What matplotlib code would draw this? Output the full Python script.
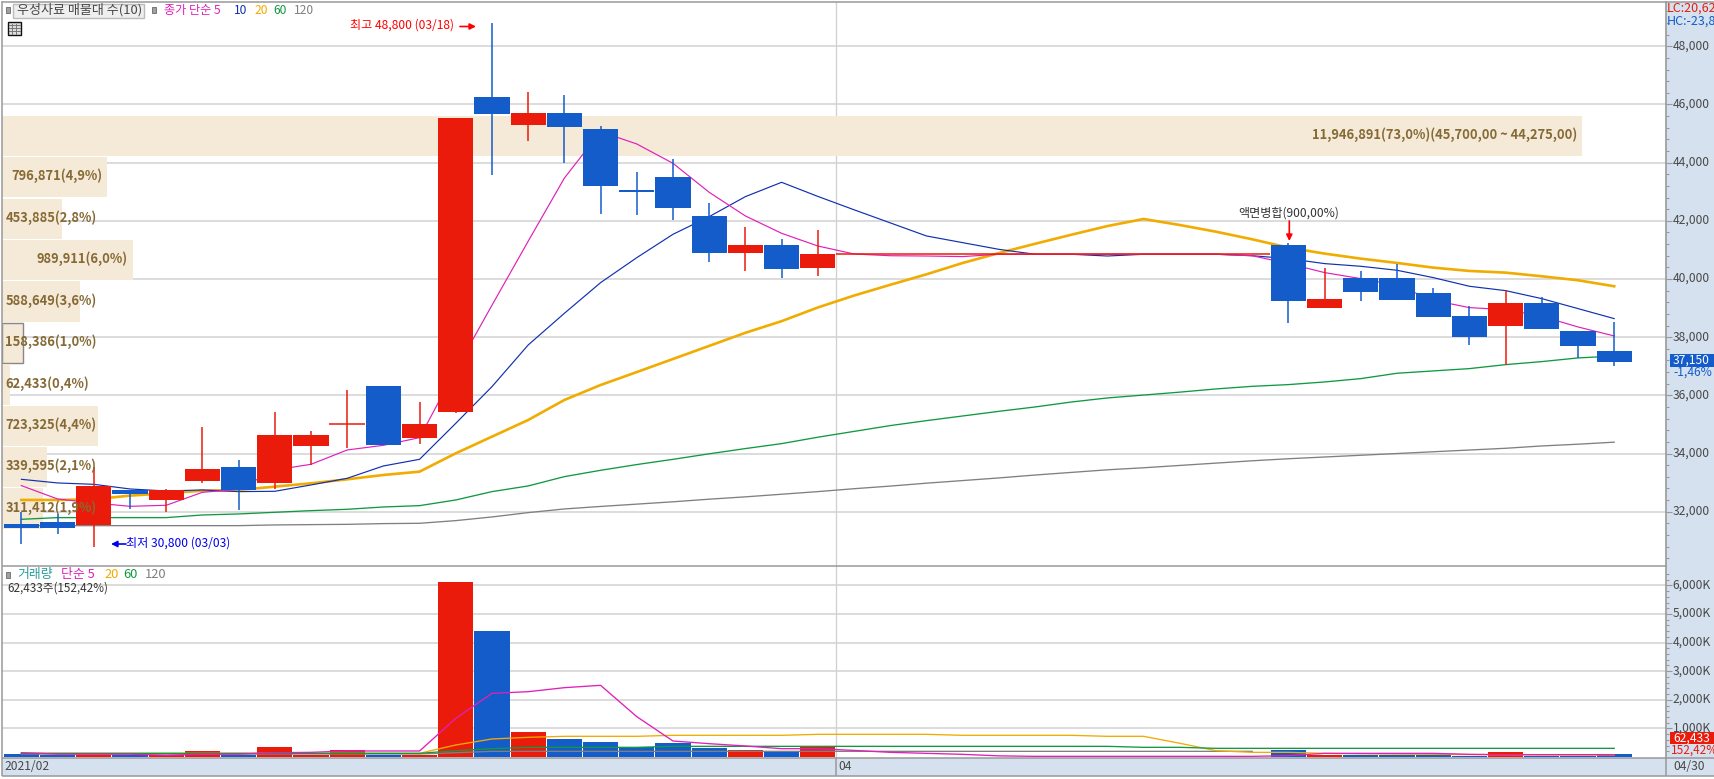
# -*- coding: utf-8 -*-
import numpy as np
import matplotlib
matplotlib.use("Agg")
import matplotlib.pyplot as plt
from matplotlib.patches import Rectangle
from matplotlib.transforms import ScaledTranslation

plt.rcParams['font.family'] = ['Noto Sans CJK KR', 'DejaVu Sans']

# candles (index 23-34 is the trading halt)
opens = [31580,31650,31543,32747,32403,33056,33537,32988,34260,35000,36322,34535,35428,46258,45295,45708,45158,43060,43508,42167,
         40895,41170,40379,40860,40860,40860,40860,40860,40860,40860,40860,40860,40860,40860,40860,41159,38993,40025,40025,39509,
         38718,38374,39165,38202,37515]
closes = [31440,31440,32885,32610,32747,33469,32747,34638,34638,35000,34294,35016,45536,45674,45708,45227,43198,42990,42442,40895,
          41170,40345,40860,40860,40860,40860,40860,40860,40860,40860,40860,40860,40860,40860,40860,39234,39303,39543,39268,38684,
          37996,39165,38271,37687,37150]
highs = [32000,31920,33526,32750,32780,34913,33778,35428,34775,36185,36322,35772,45536,48800,46430,46327,45261,43680,44126,42614,
         41789,41376,41686,40860,40860,40860,40860,40860,40860,40860,40860,40860,40860,40860,40860,41240,40368,40265,40506,39681,
         39062,39612,39394,38202,38512]
lows = [30890,31230,30800,32094,32002,33000,32059,32793,33606,34191,34294,34328,35383,43588,44745,43989,42236,42200,42029,40585,
        40276,40035,40104,40860,40860,40860,40860,40860,40860,40860,40860,40860,40860,40860,40860,38478,38993,39234,39268,38684,
        37721,37056,38271,37297,37000]

ma5 = [32896,32437,32300,32185,32220,32666,32770,33434,33629,34122,34282,34546,36873,39100,41300,43470,45066,44642,43977,42980,
       42167,41571,41135,40860,40800,40790,40770,40850,40850,40850,40850,40850,40850,40850,40800,40529,40220,40013,39784,39268,
       39016,38947,38718,38351,38042]
ma10 = [33113,32988,32941,32781,32712,32747,32690,32701,32919,33148,33572,33801,35039,36300,37732,38821,39875,40734,41537,42144,
        42832,43324,42840,42380,41930,41480,41250,41020,40850,40850,40790,40850,40850,40850,40800,40700,40529,40437,40300,40048,
        39750,39600,39325,38982,38638]
ma20 = [32403,32403,32426,32552,32632,32723,32747,32861,32976,33113,33262,33377,34008,34580,35153,35841,36355,36800,37250,37700,
        38150,38550,39020,39430,39800,40160,40550,40890,41210,41520,41820,42063,41856,41626,41365,41079,40873,40700,40552,40391,
        40277,40219,40093,39956,39750]
ma60 = [31738,31796,31796,31796,31796,31887,31922,31979,32036,32082,32162,32208,32403,32690,32885,33205,33423,33620,33800,33990,
        34170,34340,34560,34760,34960,35130,35290,35450,35600,35770,35910,36010,36110,36220,36310,36369,36460,36575,36759,36839,
        36919,37056,37160,37286,37350]
ma120 = [31520,31520,31520,31520,31520,31520,31520,31544,31555,31565,31590,31601,31693,31819,31968,32094,32180,32260,32340,32430,
         32510,32600,32690,32790,32880,32980,33070,33160,33260,33350,33440,33510,33590,33670,33750,33820,33880,33940,34000,34060,
         34120,34180,34260,34320,34390]

volume = [93,70,70,70,70,210,70,350,70,245,70,70,6119,4405,874,629,524,338,490,315,
          245,198,361,0,0,0,0,0,0,0,0,0,0,0,0,245,70,70,70,70,
          45,186,45,45,90]
vma5 = [150,100,100,100,58,100,100,150,163,210,210,210,1352,2226,2284,2424,2506,1410,559,466,
        385,291,291,230,163,128,93,40,23,23,23,23,23,23,23,47,128,128,128,128,
        93,82,82,82,82]
vma20 = [130,130,130,130,130,130,130,130,130,130,130,130,420,630,688,723,723,723,758,758,
         758,758,793,793,793,793,758,758,758,758,723,723,480,221,163,163,128,110,100,93,
         85,80,75,70,70]
vma60 = [128,128,128,128,128,128,128,128,128,128,128,128,221,291,338,338,338,338,373,373,
         373,373,373,373,373,373,373,373,373,373,373,338,338,303,303,303,303,303,303,303,
         303,303,303,303,303]
vma120 = [105,105,105,105,105,105,105,105,105,105,105,105,150,198,198,198,198,198,198,198,
          198,198,198,198,198,198,198,198,198,198,198,198,198,198,198]

# volume by price on the left
profile_price = [44916,43507,42074,40653,39227,37800,36374,34944,33535,32110]
profile_vol = [11946891,796871,453885,989911,588649,158386,62433,723325,339595,311412]
profile_labels = ['11,946,891(73,0%)(45,700,00 ~ 44,275,00)','796,871(4,9%)','453,885(2,8%)','989,911(6,0%)','588,649(3,6%)',
                  '158,386(1,0%)','62,433(0,4%)','723,325(4,4%)','339,595(2,1%)','311,412(1,9%)']

price_ticks = [32000,34000,36000,38000,40000,42000,44000,46000,48000]
price_tick_labels = ['32,000','34,000','36,000','38,000','40,000','42,000','44,000','46,000','48,000']
vol_ticks = [1000,2000,3000,4000,5000,6000]
vol_tick_labels = ['1,000K','2,000K','3,000K','4,000K','5,000K','6,000K']

RED='#EA1B0A'; BLUE='#135CC9'; MAG='#E020B8'; NAVY='#1030B0'; ORG='#F0AC00'; GRN='#109A40'; GRY='#808080'
BEIGE='#F5E9D7'; STRIP='#D6E1EF'; GRID='#D2D2D2'; EDGE='#999999'; TXT='#484848'; BROWN='#866A35'

W,H=1715,779
fig=plt.figure(figsize=(W/100,H/100),dpi=100)

def px_axes(l,t,r,b,**kw):
    return fig.add_axes([l/W,1-b/H,(r-l)/W,(b-t)/H],**kw)

bg=px_axes(0,0,W,H,zorder=0)
bg.set_xlim(0,W); bg.set_ylim(H,0); bg.axis('off')
bg.add_patch(Rectangle((1666,2),W-1666,774,fc=STRIP,ec='none'))
bg.add_patch(Rectangle((2,758),W-2,18,fc=STRIP,ec='none'))

X_PER=36.2
def xlims():
    return (2-21.4)/X_PER,(1666-21.4)/X_PER

ax=px_axes(2,2,1666,566,zorder=1)
vx=px_axes(2,566,1666,758,zorder=1)
PPX=34.38
ax.set_ylim(48000-(566-46.3)*PPX,48000+(46.3-2)*PPX)
vx.set_ylim(-35,(757-566)/28.6*1000)
ax.set_yticks(price_ticks,labels=price_tick_labels)
ax.set_yticks(np.arange(30400,49600,400),minor=True)
vx.set_yticks(vol_ticks,labels=vol_tick_labels)
vx.set_yticks(np.arange(200,6600,200),minor=True)
lift=ScaledTranslation(0,2/100,fig.dpi_scale_trans)
for a in (ax,vx):
    a.set_xlim(*xlims())
    a.set_xticks([])
    a.yaxis.tick_right()
    for s in ('top','bottom','left'):
        a.spines[s].set_visible(False)
    a.spines['right'].set_color(EDGE)
    a.spines['right'].set_linewidth(1.2)
    a.tick_params(axis='y',which='major',length=4.3,width=0.8,color=EDGE,labelsize=8.7,labelcolor=TXT,pad=0.5)
    a.tick_params(axis='y',which='minor',length=2,width=0.8,color=EDGE)
    a.axvline(22.5,color=GRID,lw=1,zorder=1)
    for t in a.get_yticklabels():
        t.set_transform(t.get_transform()+lift)

for p in price_ticks:
    ax.axhline(p,color=GRID,lw=1.1,zorder=1)
for v in vol_ticks:
    vx.axhline(v,color=GRID,lw=1.1,zorder=1)

x=np.arange(len(opens))
o=np.array(opens,float); c=np.array(closes,float)
colors=[RED if cc>=oo else BLUE for oo,cc in zip(o,c)]

# volume profile bars
x0=xlims()[0]
pscale=1580/11946891/X_PER
bar_w=np.array(profile_vol)*pscale
edges=['none']*10
edges[5]='#888888'
ax.barh(profile_price,bar_w,height=1385,left=x0,color=BEIGE,edgecolor=edges,linewidth=1,zorder=1.5)

# moving averages
ax.plot(x,ma120,color=GRY,lw=0.95,zorder=2)
ax.plot(x,ma60,color=GRN,lw=0.95,zorder=2)
ax.plot(x,ma20,color=ORG,lw=1.9,zorder=2)
ax.plot(x,ma10,color=NAVY,lw=0.85,zorder=2)
ax.plot(x,ma5,color=MAG,lw=0.85,zorder=2)

# candles
ax.vlines(x,lows,highs,colors=colors,lw=1.1,zorder=3)
ax.bar(x,np.abs(c-o),bottom=np.minimum(o,c),width=0.967,color=colors,zorder=3)
flat=o==c
ax.hlines(c[flat],x[flat]-0.5,x[flat]+0.5,colors=RED,lw=1.1,zorder=3)

vx.bar(x,volume,width=0.967,color=colors,zorder=2)
vx.plot(x[:len(vma120)],vma120,color=GRY,lw=0.95,zorder=3)
vx.plot(x,vma20,color=ORG,lw=0.95,zorder=3)
vx.plot(x,vma60,color=GRN,lw=0.95,zorder=3)
vx.plot(x,vma5,color=MAG,lw=0.95,zorder=3)

# overlay for the chrome and annotations, in pixels
ov=px_axes(0,0,W,H,zorder=5)
ov.patch.set_alpha(0)
ov.set_xlim(0,W); ov.set_ylim(H,0); ov.axis('off')

FS=8.7
def label(px,py,s,color=TXT,ha='left',fs=FS,**kw):
    return ov.text(px,py,s,color=color,ha=ha,va='center',fontsize=fs,**kw)

# borders
for xs,ys in [((2,1715),(1.5,1.5)),((2.5,2.5),(1,776)),((2,1666),(566,566)),((2,1715),(758,758)),((2,1715),(776,776)),
              ((1666,1666),(758,776)),((836.3,836.3),(758,776))]:
    ov.plot(xs,ys,color=EDGE,lw=1.1,solid_capstyle='butt')

# profile labels
PFS=9.3
for i in range(10):
    right=2+profile_vol[i]*pscale*X_PER
    y=H-ax.transData.transform((0,profile_price[i]))[1]-1
    tw=ov.text(0,0,profile_labels[i],fontsize=PFS,weight='bold')
    w=tw.get_window_extent(fig.canvas.get_renderer()).width
    tw.remove()
    if w+10<right:
        label(right-5,y,profile_labels[i],BROWN,ha='right',fs=PFS,weight='bold')
    else:
        label(5.5,y,profile_labels[i],BROWN,fs=PFS,weight='bold')

# legends
ov.add_patch(Rectangle((6.5,7),4,6,fc='#A0A0A0',ec='#777777',lw=0.7))
ov.add_patch(Rectangle((13.5,3.5),131,14,fc='#EFEFEF',ec='#BBBBBB',lw=1))
label(17,10,'우성사료 매물대 수(10)',TXT,fs=9.4)
ov.add_patch(Rectangle((152.5,7),4,6,fc='#A0A0A0',ec='#777777',lw=0.7))
label(164,10,'종가 단순 5',MAG)
label(234,10,'10',NAVY)
label(254,10,'20',ORG)
label(273.5,10,'60',GRN)
label(294,10,'120',GRY)
ov.add_patch(Rectangle((8,21.5),13,13,fc='#DDDDDD',ec='#111111',lw=1))
for gx in (12.5,16.5):
    ov.plot([gx,gx],[24,34],color='#777777',lw=0.7)
for gy in (25,28,31):
    ov.plot([9,20],[gy,gy],color='#777777',lw=0.7)

ov.add_patch(Rectangle((6.5,572),4,6,fc='#A0A0A0',ec='#777777',lw=0.7))
label(17,574.5,'거래량','#2A9D9D',fs=9.3)
label(61,574.5,'단순 5',MAG,fs=9.3)
label(104,574.5,'20',ORG,fs=9.3)
label(123.5,574.5,'60',GRN,fs=9.3)
label(144.5,574.5,'120',GRY,fs=9.3)
label(7.5,588.5,'62,433주(152,42%)','#333333',fs=8.4)

# high / low / split annotations
label(350,25,'최고 48,800 (03/18)','#FF0000')
ov.annotate('',xy=(476,26.5),xytext=(460,26.5),arrowprops=dict(arrowstyle='-|>',color='#FF0000',lw=1.2,shrinkA=0,shrinkB=0,mutation_scale=9))
label(126,543,'최저 30,800 (03/03)','#0000EE')
ov.annotate('',xy=(111,544),xytext=(126,544),arrowprops=dict(arrowstyle='-|>',color='#0000EE',lw=1.2,shrinkA=0,shrinkB=0,mutation_scale=9))
label(1238,213,'액면병합(900,00%)','#333333')
ov.annotate('',xy=(1289.3,241),xytext=(1289.3,221),arrowprops=dict(arrowstyle='-|>',color='#FF0000',lw=1.2,shrinkA=0,shrinkB=0,mutation_scale=9))

# right strip
label(1667,8.5,'LC:20,62',RED,fs=9)
label(1667,21.5,'HC:-23,8',BLUE,fs=9)
ov.add_patch(Rectangle((1670,354),45,12.7,fc=BLUE,ec='none'))
label(1673,360,'37,150','white')
label(1673,372,'-1,46%',BLUE)
ov.add_patch(Rectangle((1670,732),45,12.3,fc=RED,ec='none'))
label(1673,738,'62,433','white')
label(1671,750.5,'152,42%',RED,fs=8.5)

# date strip
label(4.5,766.5,'2021/02',TXT)
label(838,766.5,'04',TXT)
label(1673,766.5,'04/30',TXT)

fig.savefig('out.png',dpi=100)
